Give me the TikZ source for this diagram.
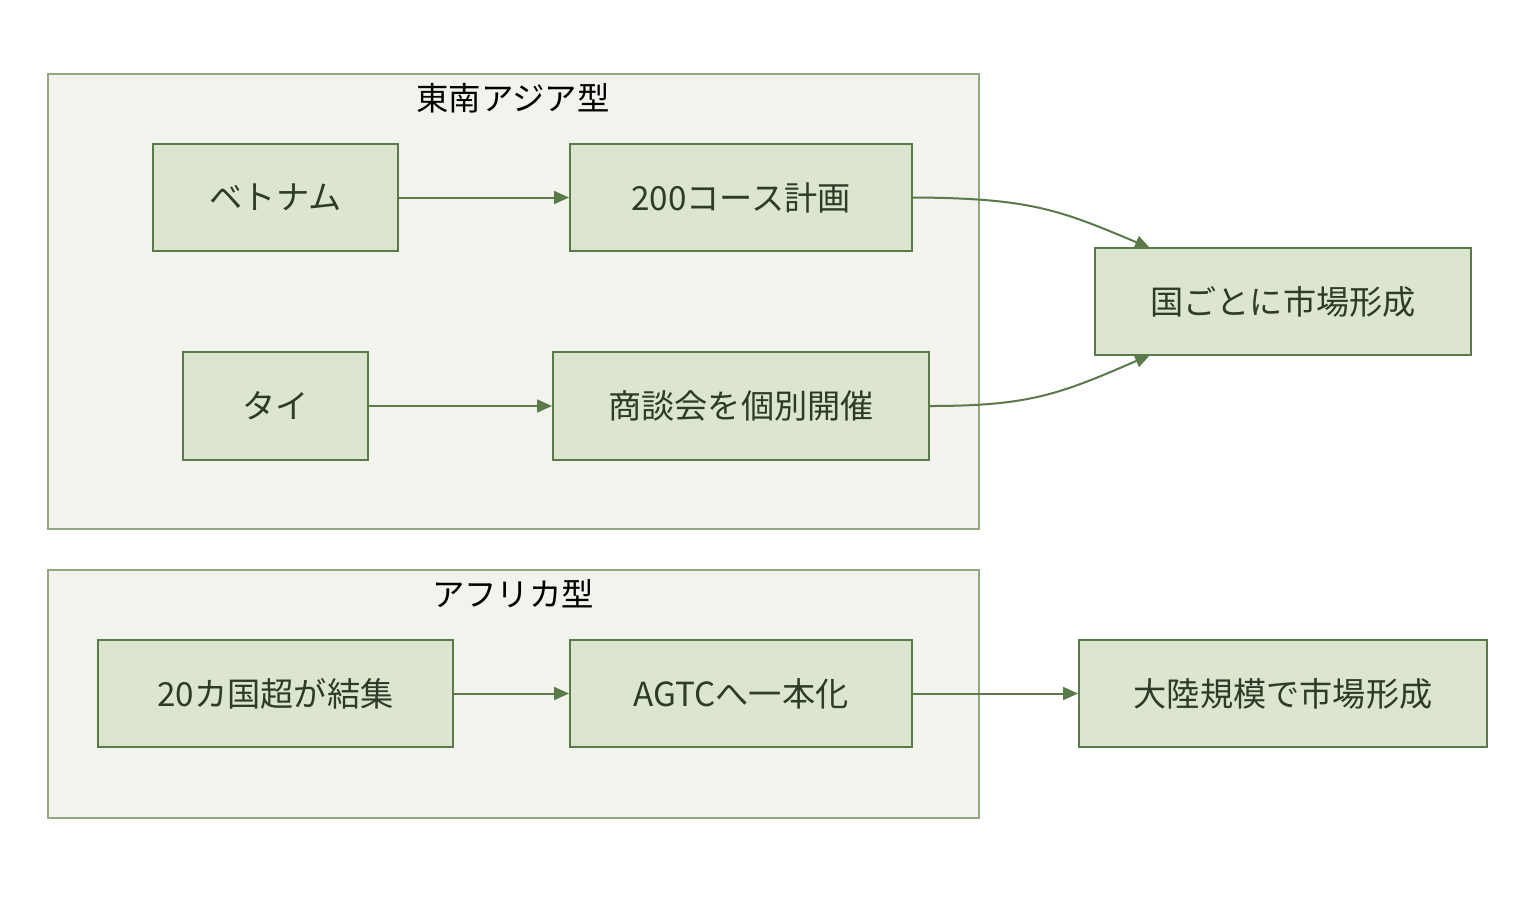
\documentclass[tikz,border=0pt]{standalone}
\usepackage{fontspec}
\setmainfont{Noto Sans CJK JP}
\usetikzlibrary{arrows.meta}
\definecolor{clfill}{HTML}{F2F3EC}
\definecolor{cldraw}{HTML}{94A87E}
\definecolor{ndfill}{HTML}{DCE5D0}
\definecolor{nddraw}{HTML}{5A7A4A}
\definecolor{ndtext}{HTML}{2E3B28}
\tikzset{
  cluster/.style={draw=cldraw, fill=clfill, line width=0.9pt},
  box/.style={draw=nddraw, fill=ndfill, line width=1pt, text=ndtext, font=\fontsize{16.6}{20}\selectfont, inner sep=0pt},
  ttl/.style={text=black, font=\fontsize{16.2}{20}\selectfont, inner sep=0pt},
  conn/.style={draw=nddraw, line width=1pt, -{Triangle[length=7.5pt,width=6.5pt]}}
}
\begin{document}
\begin{tikzpicture}[x=0.5pt,y=-0.5pt]
\useasboundingbox (0,0) rectangle (1536,896);
% clusters
\path[cluster] (48,74) rectangle (979,529);
\path[cluster] (48,570) rectangle (979,818);
\node[ttl] (t1) at (513,98) {東南アジア型};
\node[ttl] (t2) at (513,594) {アフリカ型};
% nodes
\node[box, minimum width=122.5pt, minimum height=53.5pt] (vn) at (275.5,197.5) {ベトナム};
\node[box, minimum width=171pt, minimum height=53.5pt] (c200) at (741,197.5) {200コース計画};
\node[box, minimum width=92.5pt, minimum height=54pt] (th) at (275.5,406) {タイ};
\node[box, minimum width=188pt, minimum height=54pt] (sd) at (741,406) {商談会を個別開催};
\node[box, minimum width=188pt, minimum height=53.5pt] (kg) at (1283,301.5) {国ごとに市場形成};
\node[box, minimum width=177.5pt, minimum height=53.5pt] (af) at (275.5,693.5) {20カ国超が結集};
\node[box, minimum width=171pt, minimum height=53.5pt] (ag) at (741,693.5) {AGTCへ一本化};
\node[box, minimum width=204pt, minimum height=53.5pt] (tr) at (1283,693.5) {大陸規模で市場形成};
% connectors
\draw[conn] (vn) -- (c200);
\draw[conn] (th) -- (sd);
\draw[conn] (af) -- (ag);
\draw[conn] (ag) -- (tr);
\coordinate (kgt) at (1150,248);
\coordinate (kgb) at (1150,355);
\draw[conn] (c200.east) .. controls (1030,198) and (1060,210) .. (kgt);
\draw[conn] (sd.east) .. controls (1030,406) and (1060,394) .. (kgb);
\end{tikzpicture}
\end{document}
